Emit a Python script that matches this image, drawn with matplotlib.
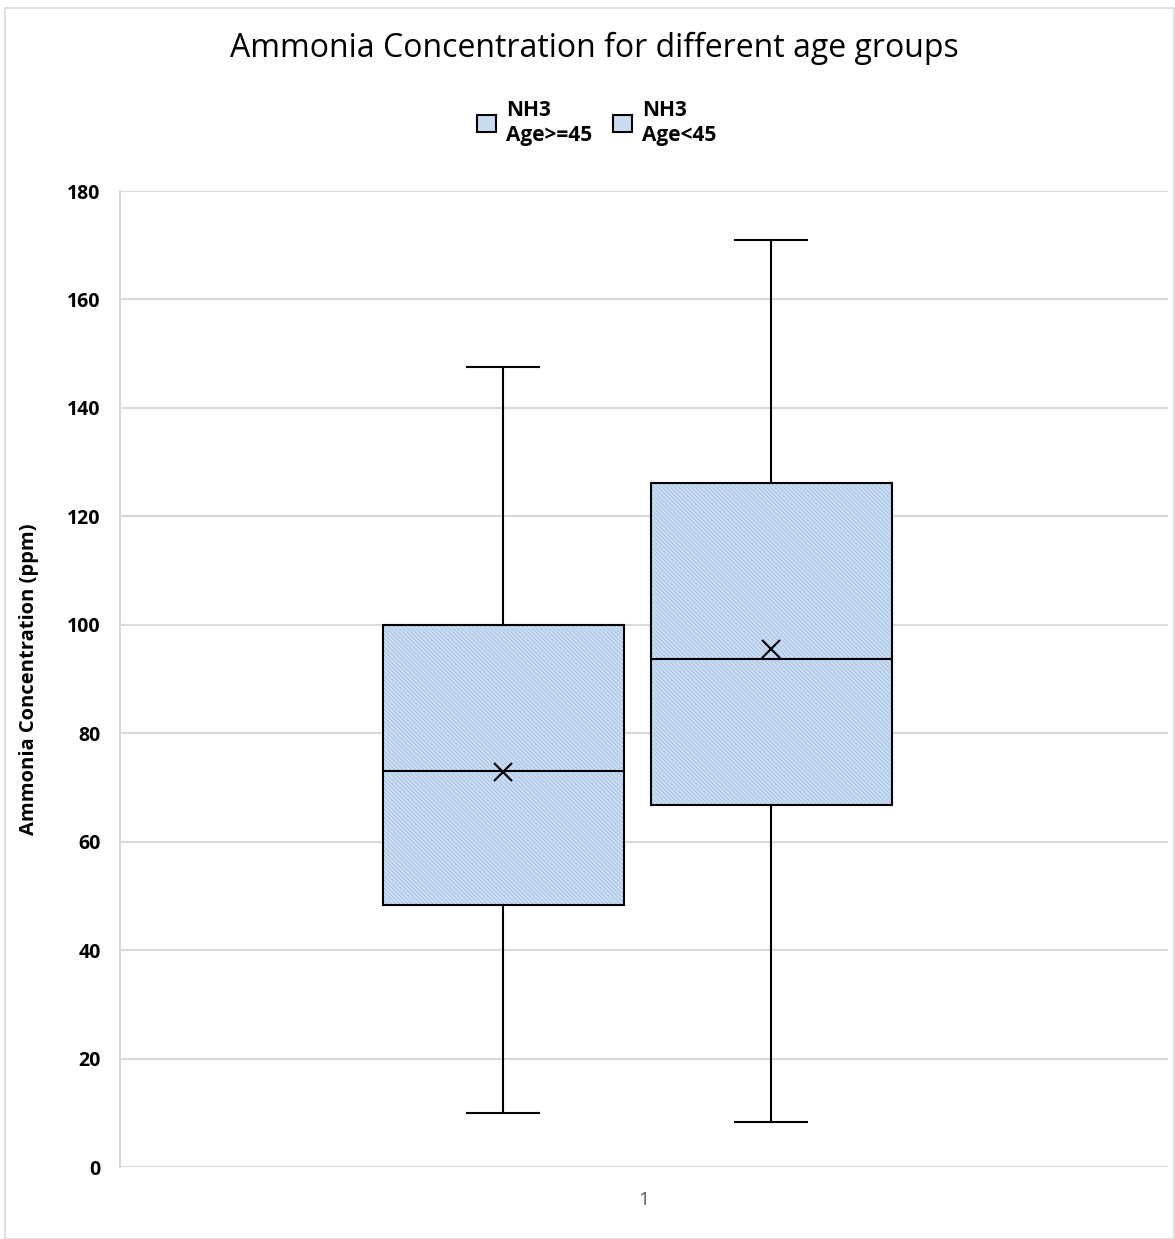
import matplotlib.pyplot as plt
from matplotlib.patches import Rectangle, PathPatch

# Box plot summaries (ppm)
groups = ['NH3\nAge>=45', 'NH3\nAge<45']
whislo = [10.0, 8.3]
q1 = [48.3, 66.8]
med = [73.0, 93.7]
q3 = [100.0, 126.2]
whishi = [147.5, 171.0]
means = [72.8, 95.5]
yticks = [0, 20, 40, 60, 80, 100, 120, 140, 160, 180]

plt.rcParams['font.family'] = ['Open Sans', 'DejaVu Sans']
plt.rcParams['hatch.linewidth'] = 0.5

fig = plt.figure(figsize=(11.75, 12.39), dpi=100)
ax = fig.add_axes([0.1021, 0.0581, 0.892, 0.7877])

stats = []
for i in range(len(groups)):
    stats.append({'label': groups[i], 'whislo': whislo[i], 'q1': q1[i], 'med': med[i],
                  'q3': q3[i], 'whishi': whishi[i], 'mean': means[i], 'fliers': []})

positions = [0.8655, 1.1212]
bp = ax.bxp(stats, positions=positions, widths=0.23, patch_artist=True, showmeans=True,
            showfliers=False,
            boxprops=dict(facecolor='#c9dcf1', edgecolor='#a3bfe2', linewidth=0, hatch='\\\\\\\\\\\\\\\\'),
            medianprops=dict(color='black', linewidth=1.5),
            whiskerprops=dict(color='black', linewidth=1.5),
            capprops=dict(color='black', linewidth=1.5),
            meanprops=dict(marker='x', markeredgecolor='black', markersize=13, markeredgewidth=1.5))
# black outline on top of the hatched fill
for box in bp['boxes']:
    ax.add_patch(PathPatch(box.get_path(), fill=False, edgecolor='black', linewidth=1.5, zorder=2.5))
for cap in bp['caps']:
    xs = cap.get_xdata()
    c = (xs[0] + xs[1]) / 2
    cap.set_xdata([c - 0.0345, c + 0.0345])

ax.set_xlim(0.5, 1.5)
ax.set_ylim(0, 180)
ax.set_yticks(yticks)
ax.set_yticklabels([str(v) for v in yticks], fontsize=14, fontweight='bold')
ax.set_xticks([1])
ax.set_xticklabels(['1'], fontsize=14, color='#595959')
ax.tick_params(axis='both', length=0)
ax.tick_params(axis='y', pad=14)
ax.tick_params(axis='x', pad=17)
ax.grid(axis='y', color='#d9d9d9', linewidth=1.5)
ax.set_axisbelow(True)
for s in ['top', 'right', 'bottom']:
    ax.spines[s].set_visible(False)
ax.spines['left'].set_color('#d9d9d9')
ax.spines['left'].set_linewidth(1.5)

ax.set_ylabel('Ammonia Concentration (ppm)', fontsize=14.5, fontweight='bold', labelpad=20)

fig.text(0.506, 0.961, 'Ammonia Concentration for different age groups', fontsize=23,
         ha='center', va='center')

# legend swatches
h1 = Rectangle((0, 0), 1, 1, facecolor='#c9dcf1', edgecolor='black', linewidth=1.5)
h2 = Rectangle((0, 0), 1, 1, facecolor='#c9dcf1', edgecolor='black', linewidth=1.5)
fig.legend([h1, h2], groups, loc='center', ncol=2,
           bbox_to_anchor=(0.508, 0.9007), frameon=False, handlelength=0.9, handleheight=0.9,
           handletextpad=0.5, columnspacing=1.0, labelspacing=0.3,
           prop={'size': 15, 'weight': 'bold'})

# light chart-area border
fig.patches.append(Rectangle((0.004, 0.0), 0.995, 0.9935, transform=fig.transFigure,
                             fill=False, edgecolor='#d9d9d9', linewidth=1.2))

plt.savefig('out.png', dpi=100)
